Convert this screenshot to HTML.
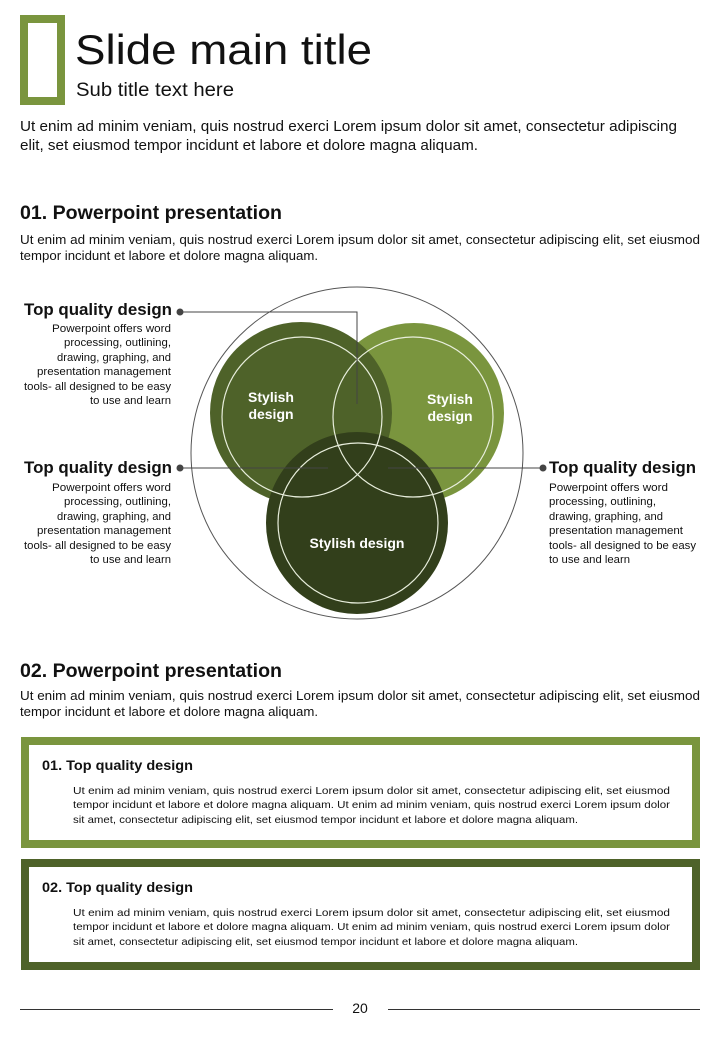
<!DOCTYPE html>
<html><head><meta charset="utf-8"><style>
html,body{margin:0;padding:0;background:#fff;}
svg{display:block;}
text{font-family:"Liberation Sans",sans-serif;fill:#111;}
.b{font-weight:bold;}
</style></head><body>
<svg width="720" height="1040" viewBox="0 0 720 1040" xmlns="http://www.w3.org/2000/svg">
<rect x="0" y="0" width="720" height="1040" fill="#fff"/>
<!-- header -->
<rect x="24" y="19" width="37" height="82" fill="none" stroke="#7a953e" stroke-width="8"/>
<text x="75" y="64" font-size="42" textLength="297" lengthAdjust="spacingAndGlyphs">Slide main title</text>
<text x="76" y="96" font-size="19" textLength="158" lengthAdjust="spacingAndGlyphs">Sub title text here</text>
<text x="20" y="131" font-size="15" textLength="657" lengthAdjust="spacingAndGlyphs">Ut enim ad minim veniam, quis nostrud exerci  Lorem ipsum dolor sit amet, consectetur adipiscing</text>
<text x="20" y="150" font-size="15" textLength="458" lengthAdjust="spacingAndGlyphs">elit, set eiusmod tempor incidunt et labore et dolore magna aliquam.</text>

<text class="b" x="20" y="219" font-size="19" textLength="262" lengthAdjust="spacingAndGlyphs">01. Powerpoint presentation</text>
<text x="20" y="244" font-size="12.5" textLength="680" lengthAdjust="spacingAndGlyphs">Ut enim ad minim veniam, quis nostrud exerci  Lorem ipsum dolor sit amet, consectetur adipiscing elit, set eiusmod</text>
<text x="20" y="260" font-size="12.5" textLength="298" lengthAdjust="spacingAndGlyphs">tempor incidunt et labore et dolore magna aliquam.</text>

<!-- diagram -->
<circle cx="357" cy="453" r="166" fill="none" stroke="#555" stroke-width="1"/>
<circle cx="414" cy="413" r="90" fill="#7a953e"/>
<circle cx="301" cy="413" r="91" fill="#4e6229"/>
<circle cx="357" cy="523" r="91" fill="#323f1b"/>
<circle cx="302" cy="417" r="80" fill="none" stroke="#e8eedc" stroke-width="1.2"/>
<circle cx="413" cy="417" r="80" fill="none" stroke="#e8eedc" stroke-width="1.2"/>
<circle cx="358" cy="523" r="80" fill="none" stroke="#e8eedc" stroke-width="1.2"/>
<polyline points="180,312 357,312 357,404" fill="none" stroke="#444" stroke-width="1"/>
<line x1="180" y1="468" x2="328" y2="468" stroke="#444" stroke-width="1"/>
<line x1="388" y1="468" x2="543" y2="468" stroke="#444" stroke-width="1"/>
<circle cx="180" cy="312" r="3.5" fill="#444"/>
<circle cx="180" cy="468" r="3.5" fill="#444"/>
<circle cx="543" cy="468" r="3.5" fill="#444"/>
<g class="b" font-size="14" text-anchor="middle">
<text x="271" y="402" style="fill:#fff" font-weight="bold">Stylish</text>
<text x="271" y="419" style="fill:#fff" font-weight="bold">design</text>
<text x="450" y="404" style="fill:#fff" font-weight="bold">Stylish</text>
<text x="450" y="421" style="fill:#fff" font-weight="bold">design</text>
<text x="357" y="548" style="fill:#fff" font-weight="bold">Stylish design</text>
</g>

<!-- left labels -->
<g text-anchor="end" font-size="11">
<text class="b" x="172" y="315" font-size="17" textLength="148" lengthAdjust="spacingAndGlyphs">Top quality design</text>
<text x="171" y="332" textLength="119" lengthAdjust="spacingAndGlyphs">Powerpoint offers word</text>
<text x="171" y="346" textLength="107" lengthAdjust="spacingAndGlyphs">processing, outlining,</text>
<text x="171" y="361" textLength="114" lengthAdjust="spacingAndGlyphs">drawing, graphing, and</text>
<text x="171" y="375" textLength="134" lengthAdjust="spacingAndGlyphs">presentation management</text>
<text x="171" y="390" textLength="147" lengthAdjust="spacingAndGlyphs">tools- all designed to be easy</text>
<text x="171" y="404" textLength="81" lengthAdjust="spacingAndGlyphs">to use and learn</text>

<text class="b" x="172" y="473" font-size="17" textLength="148" lengthAdjust="spacingAndGlyphs">Top quality design</text>
<text x="171" y="491" textLength="119" lengthAdjust="spacingAndGlyphs">Powerpoint offers word</text>
<text x="171" y="505" textLength="107" lengthAdjust="spacingAndGlyphs">processing, outlining,</text>
<text x="171" y="520" textLength="114" lengthAdjust="spacingAndGlyphs">drawing, graphing, and</text>
<text x="171" y="534" textLength="134" lengthAdjust="spacingAndGlyphs">presentation management</text>
<text x="171" y="549" textLength="147" lengthAdjust="spacingAndGlyphs">tools- all designed to be easy</text>
<text x="171" y="563" textLength="81" lengthAdjust="spacingAndGlyphs">to use and learn</text>
</g>
<g font-size="11">
<text class="b" x="549" y="473" font-size="17" textLength="147" lengthAdjust="spacingAndGlyphs">Top quality design</text>
<text x="549" y="491" textLength="119" lengthAdjust="spacingAndGlyphs">Powerpoint offers word</text>
<text x="549" y="505" textLength="107" lengthAdjust="spacingAndGlyphs">processing, outlining,</text>
<text x="549" y="520" textLength="114" lengthAdjust="spacingAndGlyphs">drawing, graphing, and</text>
<text x="549" y="534" textLength="134" lengthAdjust="spacingAndGlyphs">presentation management</text>
<text x="549" y="549" textLength="147" lengthAdjust="spacingAndGlyphs">tools- all designed to be easy</text>
<text x="549" y="563" textLength="81" lengthAdjust="spacingAndGlyphs">to use and learn</text>
</g>

<!-- section 2 -->
<text class="b" x="20" y="677" font-size="19" textLength="262" lengthAdjust="spacingAndGlyphs">02. Powerpoint presentation</text>
<text x="20" y="700" font-size="12.5" textLength="680" lengthAdjust="spacingAndGlyphs">Ut enim ad minim veniam, quis nostrud exerci  Lorem ipsum dolor sit amet, consectetur adipiscing elit, set eiusmod</text>
<text x="20" y="716" font-size="12.5" textLength="298" lengthAdjust="spacingAndGlyphs">tempor incidunt et labore et dolore magna aliquam.</text>

<rect x="25" y="741" width="671" height="103" fill="none" stroke="#7a953e" stroke-width="8"/>
<text class="b" x="42" y="770" font-size="14" textLength="151" lengthAdjust="spacingAndGlyphs">01. Top quality design</text>
<g font-size="10.5" fill="#222">
<text x="73" y="794" textLength="597" lengthAdjust="spacingAndGlyphs">Ut enim ad minim veniam, quis nostrud exerci  Lorem ipsum dolor sit amet, consectetur adipiscing elit, set eiusmod</text>
<text x="73" y="808" textLength="597" lengthAdjust="spacingAndGlyphs">tempor incidunt et labore et dolore magna aliquam. Ut enim ad minim veniam, quis nostrud exerci  Lorem ipsum dolor</text>
<text x="73" y="823" textLength="505" lengthAdjust="spacingAndGlyphs">sit amet, consectetur adipiscing elit, set eiusmod tempor incidunt et labore et dolore magna aliquam.</text>
</g>

<rect x="25" y="863" width="671" height="103" fill="none" stroke="#4e6229" stroke-width="8"/>
<text class="b" x="42" y="892" font-size="14" textLength="151" lengthAdjust="spacingAndGlyphs">02. Top quality design</text>
<g font-size="10.5">
<text x="73" y="916" textLength="597" lengthAdjust="spacingAndGlyphs">Ut enim ad minim veniam, quis nostrud exerci  Lorem ipsum dolor sit amet, consectetur adipiscing elit, set eiusmod</text>
<text x="73" y="930" textLength="597" lengthAdjust="spacingAndGlyphs">tempor incidunt et labore et dolore magna aliquam. Ut enim ad minim veniam, quis nostrud exerci  Lorem ipsum dolor</text>
<text x="73" y="945" textLength="505" lengthAdjust="spacingAndGlyphs">sit amet, consectetur adipiscing elit, set eiusmod tempor incidunt et labore et dolore magna aliquam.</text>
</g>

<!-- footer -->
<line x1="20" y1="1009.5" x2="333" y2="1009.5" stroke="#333" stroke-width="1"/>
<line x1="388" y1="1009.5" x2="700" y2="1009.5" stroke="#333" stroke-width="1"/>
<text x="360" y="1013" font-size="14" text-anchor="middle">20</text>
</svg>
</body></html>
